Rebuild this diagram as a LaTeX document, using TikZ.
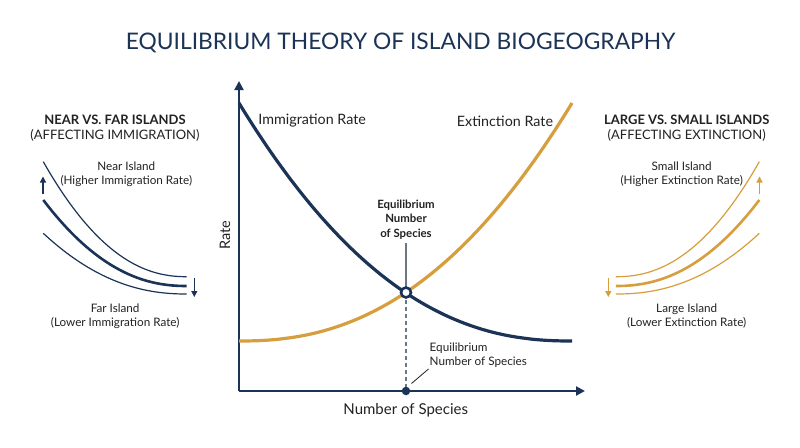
\documentclass[tikz,border=0pt]{standalone}
\usepackage{fontspec}
\setmainfont{Lato}
\usetikzlibrary{arrows.meta}
\definecolor{navy}{HTML}{1B3357}
\definecolor{gold}{HTML}{D69E3C}
\definecolor{txt}{HTML}{222222}
\definecolor{guide}{HTML}{6B7785}
\begin{document}
\begin{tikzpicture}[x=1pt,y=-1pt,
  lbl/.style={text=txt,inner sep=0pt,align=center},
  fs/.style 2 args={font=\fontsize{#1}{#2}\selectfont},
  axis/.style={navy,line width=2pt,-{Triangle[length=9pt,width=9pt]}},
  maincurve/.style={line width=3.2pt},
  thinc/.style={line width=1.2pt},
  thickc/.style={line width=2.6pt},
  smallarrow/.style={line width=1.3pt,-{Triangle[length=6pt,width=6pt]}}]
\useasboundingbox (0,0) rectangle (800,447);
\fill[white] (0,0) rectangle (800,447);

% title
\node[inner sep=0pt,text=navy,font=\fontsize{22.8}{27}\selectfont] (title) at (400.5,43) {EQUILIBRIUM THEORY OF ISLAND BIOGEOGRAPHY};

% axes
\coordinate (origin) at (239,391);
\coordinate (ytip) at (239,81);
\coordinate (xtip) at (585,391);
\draw[axis] (origin) -- (ytip);
\draw[axis] (origin) -- (xtip);

% main curves
\draw[gold,maincurve] plot[domain=0:333,samples=90,smooth] ({572-\x},{341-238*(1.00001-\x/333)^2.3});
\draw[navy,maincurve] plot[domain=0:333,samples=90,smooth] ({239+\x},{341-238*(1.00001-\x/333)^2.3});

% equilibrium
\coordinate (eq) at (406,292.5);
\coordinate (eqx) at (406,391);
\node[lbl,font=\fontsize{11.4}{14.3}\selectfont\bfseries] (eqtop) at (406,219.5) {Equilibrium\\Number\\of Species};
\draw[guide,line width=1.3pt] (eqtop.south) ++(0,4) coordinate (eqline) -- (eq);
\draw[guide,line width=1.3pt,dash pattern=on 4pt off 3pt] (eq) -- (eqx);
\node[circle,draw=navy,fill=white,line width=2.6pt,minimum size=10pt,inner sep=0pt] (eqc) at (eq) {};
\node[circle,fill=navy,minimum size=8.5pt,inner sep=0pt] (eqdot) at (eqx) {};
\node[lbl,align=left,anchor=west,fs={11.7}{14.3}] (eqbot) at (429.5,355) {Equilibrium\\Number of Species};
\coordinate (ldA) at (411.5,383.5);
\coordinate (ldB) at (428.5,369);
\draw[txt,line width=0.8pt] (ldA) -- (ldB);

% main labels
\node[lbl,fs={14.3}{17}] (imm) at (312.2,121) {Immigration Rate};
\node[lbl,fs={14.3}{17}] (ext) at (505,121) {Extinction Rate};
\node[lbl,fs={14.5}{17},rotate=90] (rate) at (225,235) {Rate};
\node[lbl,fs={15}{18}] (nos) at (405.7,410) {Number of Species};

% left panel
\node[lbl,font=\fontsize{13}{16}\selectfont\bfseries] (lh1) at (115,120) {NEAR VS. FAR ISLANDS};
\node[lbl,fs={13}{16}] (lh2) at (115,135.5) {(AFFECTING IMMIGRATION)};
\node[lbl,fs={11.7}{14.3}] (near) at (126.3,174) {Near Island\\(Higher Immigration Rate)};
\node[lbl,fs={11.7}{14.3}] (far) at (115.2,316) {Far Island\\(Lower Immigration Rate)};
\draw[navy,thinc] plot[domain=0:1,samples=50,smooth] ({43.3+143.4*\x},{276.7-115*(1.00001-\x)^2.2});
\draw[navy,thickc] plot[domain=0:1,samples=50,smooth] ({43.3+143.4*\x},{286-86*(1.00001-\x)^2.2});
\draw[navy,thinc] plot[domain=0:1,samples=50,smooth] ({43.3+143.4*\x},{294-60.7*(1.00001-\x)^2.2});
\coordinate (lua) at (43,194);
\coordinate (lub) at (43,176.5);
\draw[navy,smallarrow] (lua) -- (lub);
\coordinate (lda) at (194.3,278);
\coordinate (ldb) at (194.3,297);
\draw[navy,smallarrow] (lda) -- (ldb);

% right panel
\node[lbl,font=\fontsize{13}{16}\selectfont\bfseries] (rh1) at (686.7,120) {LARGE VS. SMALL ISLANDS};
\node[lbl,fs={13}{16}] (rh2) at (686.7,135.5) {(AFFECTING EXTINCTION)};
\node[lbl,fs={11.7}{14.3}] (small) at (681.7,174) {Small Island\\(Higher Extinction Rate)};
\node[lbl,fs={11.7}{14.3}] (large) at (686.7,316) {Large Island\\(Lower Extinction Rate)};
\draw[gold,thinc] plot[domain=0:1,samples=50,smooth] ({759.3-143.4*\x},{276.7-115*(1.00001-\x)^2.2});
\draw[gold,thickc] plot[domain=0:1,samples=50,smooth] ({759.3-143.4*\x},{286-86*(1.00001-\x)^2.2});
\draw[gold,thinc] plot[domain=0:1,samples=50,smooth] ({759.3-143.4*\x},{294-60.7*(1.00001-\x)^2.2});
\coordinate (rua) at (759.5,194);
\coordinate (rub) at (759.5,176.5);
\draw[gold,smallarrow] (rua) -- (rub);
\coordinate (rda) at (608.3,278);
\coordinate (rdb) at (608.3,297);
\draw[gold,smallarrow] (rda) -- (rdb);
\end{tikzpicture}
\end{document}
